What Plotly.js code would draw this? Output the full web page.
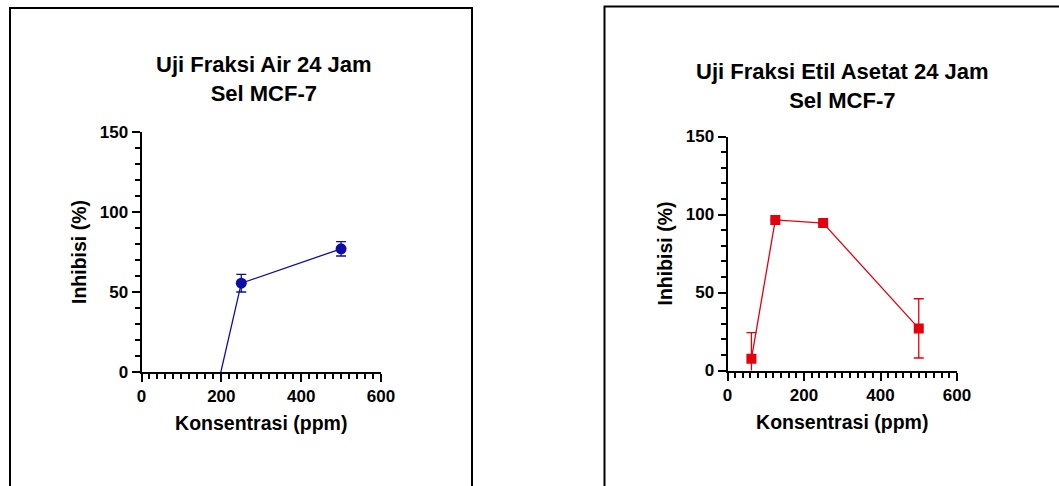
<!DOCTYPE html>
<html>
<head>
<meta charset="utf-8">
<script src="https://cdn.plot.ly/plotly-3.0.1.min.js"></script>
<style>html,body{margin:0;padding:0;background:#fff;}#chart{width:1059px;height:486px;}</style>
</head>
<body>
<div id="chart"></div>
<script>
// Data
const airConc = [125, 250, 500];
const airInhib = [-80, 55.5, 77];
const airErr = [0, 5.5, 4.5];

const etilConc = [62.5, 125, 250, 500];
const etilInhib = [7.5, 96.5, 94.5, 27];
const etilErr = [16.8, 0, 0, 19];

const xTickVals = [0, 200, 400, 600];
const yTickVals = [0, 50, 100, 150];
const titleAir = "Uji Fraksi Air 24 Jam<br>Sel MCF-7";
const titleEtil = "Uji Fraksi Etil Asetat 24 Jam<br>Sel MCF-7";
const xTitle = "Konsentrasi (ppm)";
const yTitle = "Inhibisi (%)";

const W = 1059, H = 486;
const FONT = "Liberation Sans, Arial, sans-serif";
const blue = "#0c0ca6";
const red = "#e5000e";

function px(x){return x/W;}
function py(y){return 1 - y/H;}

const traces = [
  {x: airConc, y: airInhib, type: "scatter", mode: "lines+markers", xaxis: "x", yaxis: "y",
   line: {color: blue, width: 1.3}, marker: {symbol: "circle", size: 11, color: blue},
   error_y: {type: "data", array: airErr, visible: true, color: blue, thickness: 1.3, width: 5},
   cliponaxis: true},
  {x: etilConc, y: etilInhib, type: "scatter", mode: "lines+markers", xaxis: "x2", yaxis: "y2",
   line: {color: red, width: 1.3}, marker: {symbol: "square", size: 10, color: red},
   error_y: {type: "data", array: etilErr, visible: true, color: red, thickness: 1.3, width: 5},
   cliponaxis: true}
];

function xax(domain, anchor){
  return {domain: domain, anchor: anchor, range: [0, 600], tickvals: xTickVals,
    ticks: "outside", ticklen: 8, tickwidth: 2, tickcolor: "#000",
    showline: true, linewidth: 2, linecolor: "#000", showgrid: false, zeroline: false,
    minor: {dtick: 20, ticks: "outside", ticklen: 5, tickwidth: 2, tickcolor: "#000", showgrid: false},
    tickfont: {family: FONT, size: 17, color: "#000", weight: "bold"},
    title: {text: xTitle, font: {family: FONT, size: 19.5, color: "#000", weight: "bold"}, standoff: 11},
    fixedrange: true};
}
function yax(domain, anchor){
  return {domain: domain, anchor: anchor, range: [0, 150], tickvals: yTickVals,
    ticks: "outside", ticklen: 8, tickwidth: 2, tickcolor: "#000",
    showline: true, linewidth: 2, linecolor: "#000", showgrid: false, zeroline: false,
    minor: {dtick: 10, ticks: "outside", ticklen: 5, tickwidth: 2, tickcolor: "#000", showgrid: false},
    tickfont: {family: FONT, size: 17, color: "#000", weight: "bold"},
    title: {text: yTitle, font: {family: FONT, size: 19.5, color: "#000", weight: "bold"}, standoff: 8},
    fixedrange: true};
}

const layout = {
  width: W, height: H,
  margin: {l: 0, r: 0, t: 0, b: 0},
  paper_bgcolor: "#fff", plot_bgcolor: "rgba(0,0,0,0)",
  showlegend: false,
  xaxis: xax([px(141.5), px(381)], "y"),
  yaxis: yax([py(372), py(132)], "x"),
  xaxis2: xax([px(727.5), px(957)], "y2"),
  yaxis2: yax([py(370.5), py(136.5)], "x2"),
  shapes: [
    {type: "rect", xref: "paper", yref: "paper", x0: px(10), x1: px(472), y0: py(500), y1: py(8),
     line: {color: "#000", width: 2}, fillcolor: "rgba(0,0,0,0)", layer: "below"},
    {type: "rect", xref: "paper", yref: "paper", x0: px(604.5), x1: px(1070), y0: py(500), y1: py(6.5),
     line: {color: "#000", width: 2}, fillcolor: "rgba(0,0,0,0)", layer: "below"}
  ],
  annotations: [
    {text: "<b>" + titleAir + "</b>", xref: "paper", yref: "paper", x: px(264), y: py(79),
     xanchor: "center", yanchor: "middle", showarrow: false, align: "center",
     font: {family: FONT, size: 22, color: "#000"}},
    {text: "<b>" + titleEtil + "</b>", xref: "paper", yref: "paper", x: px(842.5), y: py(85.5),
     xanchor: "center", yanchor: "middle", showarrow: false, align: "center",
     font: {family: FONT, size: 22, color: "#000"}}
  ]
};

Plotly.newPlot("chart", traces, layout, {displayModeBar: false, staticPlot: true});
</script>
</body>
</html>
